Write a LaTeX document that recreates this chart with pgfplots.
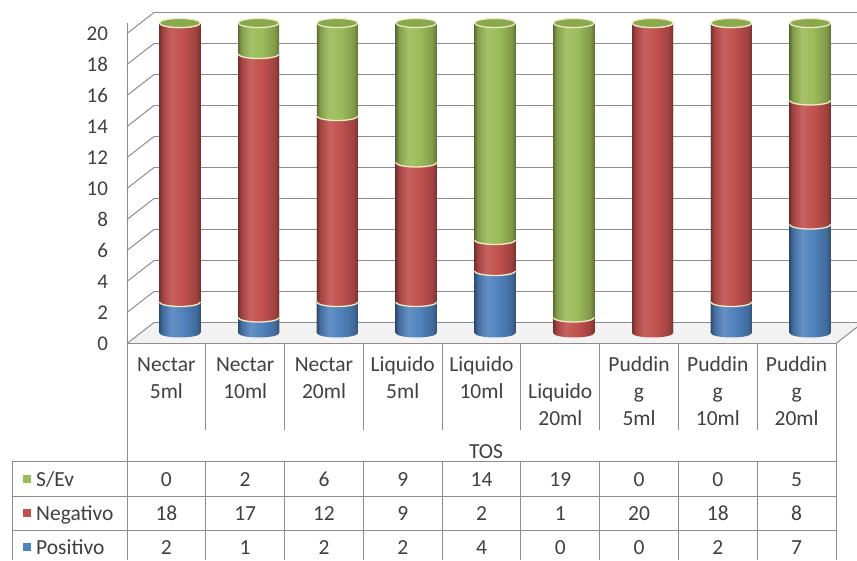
\documentclass[border=0pt]{standalone}
\usepackage{pgfplots}
\usepackage{pgfplotstable}
\pgfplotsset{compat=1.18}
\usepackage{fontspec}
\setmainfont{Carlito}
\definecolor{txt}{HTML}{404040}
\definecolor{gridc}{HTML}{8C8C8C}
\definecolor{tabc}{HTML}{8C8C8C}
\definecolor{bluem}{HTML}{4F81BD}
\definecolor{redm}{HTML}{C0504D}
\definecolor{greenm}{HTML}{9BBB59}
\definecolor{capg}{HTML}{8AA84E}
\definecolor{rimc}{HTML}{F3EDC4}
\definecolor{floorc}{HTML}{F2F2F2}
\pgfdeclarehorizontalshading{bluecyl}{100bp}{color(0bp)=(bluem!60!black); color(25bp)=(bluem!60!black); color(29bp)=(bluem!85!black); color(40bp)=(bluem!88!white); color(55bp)=(bluem); color(70bp)=(bluem!82!black); color(75bp)=(bluem!62!black); color(100bp)=(bluem!62!black)}
\pgfdeclarehorizontalshading{redcyl}{100bp}{color(0bp)=(redm!60!black); color(25bp)=(redm!60!black); color(29bp)=(redm!85!black); color(40bp)=(redm!90!white); color(55bp)=(redm); color(70bp)=(redm!82!black); color(75bp)=(redm!62!black); color(100bp)=(redm!62!black)}
\pgfdeclarehorizontalshading{greencyl}{100bp}{color(0bp)=(greenm!60!black); color(25bp)=(greenm!60!black); color(29bp)=(greenm!85!black); color(40bp)=(greenm!90!white); color(55bp)=(greenm); color(70bp)=(greenm!82!black); color(75bp)=(greenm!62!black); color(100bp)=(greenm!62!black)}
% half ellipse marks (lower half, slightly raised to hide the seam), shaded like the cylinder
\newcommand\defhalf[3]{%
\pgfdeclareplotmark{#1}{%
  \pgfpathmoveto{\pgfqpoint{-20.5pt}{1.2pt}}%
  \pgfpathlineto{\pgfqpoint{-20.5pt}{0pt}}%
  \pgfpatharc{180}{360}{20.5pt and 4.5pt}%
  \pgfpathlineto{\pgfqpoint{20.5pt}{1.2pt}}%
  \pgfpathclose
  \pgfshadepath{#2}{0}%
  \pgfusepath{}%
  #3}}
\def\arcstroke{\pgfpathmoveto{\pgfqpoint{-20.5pt}{0pt}}\pgfpatharc{180}{360}{20.5pt and 4.5pt}\pgfusepathqstroke}
\defhalf{halfgreen}{greencyl}{\arcstroke}
\defhalf{halfred}{redcyl}{\arcstroke}
\defhalf{botred}{redcyl}{}
\defhalf{botblue}{bluecyl}{}
\pgfdeclareplotmark{captop}{%
  \pgfpathellipse{\pgfpointorigin}{\pgfqpoint{20.5pt}{0pt}}{\pgfqpoint{0pt}{4.5pt}}%
  \pgfusepathqfillstroke}

\pgfplotstableread{
x pos neg sev
0 2 18 0
1 1 17 2
2 2 12 6
3 2 9 9
4 4 2 14
5 0 1 19
6 0 20 0
7 2 18 0
8 7 8 5
}\data

\begin{document}
\begin{tikzpicture}[x=1pt,y=1pt]
\useasboundingbox (0,0) rectangle (857,560);
\begin{axis}[
  at={(140.5pt,227pt)}, anchor=south west,
  scale only axis, width=709pt, height=310pt,
  xmin=-0.5, xmax=8.5, ymin=0, ymax=20,
  clip=false,
  axis line style={draw=none},
  xtick=\empty,
  ytick={0,2,...,20},
  major tick length=0pt,
  tick style={draw=none},
  yticklabel style={xshift=-29pt, yshift=-10.5pt, text=txt, font=\fontsize{21}{25}\selectfont},
  /pgf/number format/assume math mode=true,
]
% floor
\fill[floorc] ([xshift=-13.5pt,yshift=-10.5pt]axis cs:-0.5,0) -- ([xshift=-13.5pt,yshift=-10.5pt]axis cs:8.5,0)
   -- ([xshift=13.5pt,yshift=10.5pt]axis cs:8.5,0) -- ([xshift=13.5pt,yshift=10.5pt]axis cs:-0.5,0) -- cycle;
% back wall grid and side wall diagonals
\pgfplotsinvokeforeach{0,2,...,20}{
  \draw[gridc, line width=1.2pt] ([xshift=13.5pt,yshift=10.5pt]axis cs:-0.5,#1) -- ([xshift=13.5pt,yshift=10.5pt]axis cs:8.5,#1);
  \draw[gridc, line width=1pt] ([xshift=-13.5pt,yshift=-10.5pt]axis cs:-0.5,#1) -- ([xshift=13.5pt,yshift=10.5pt]axis cs:-0.5,#1);
}
\draw[gridc, line width=1pt] ([xshift=-13.5pt,yshift=-10.5pt]axis cs:8.5,0) -- ([xshift=13.5pt,yshift=10.5pt]axis cs:8.5,0);
\draw[gridc, line width=1pt] ([xshift=-13.5pt,yshift=-10.5pt]axis cs:-0.5,0) -- ([xshift=-13.5pt,yshift=-10.5pt]axis cs:8.5,0);
% cylinders, one bar per plot so each gets its own shading
\pgfplotsinvokeforeach{0,...,8}{
\addplot[ybar, bar width=41pt, bar shift=0pt, draw=none, shade, shading=greencyl, restrict x to domain=#1:#1.5]
  table[x=x, y expr=\thisrow{pos}+\thisrow{neg}+\thisrow{sev}] {\data};
\addplot[ybar, bar width=41pt, bar shift=0pt, draw=none, shade, shading=redcyl, restrict x to domain=#1:#1.5]
  table[x=x, y expr=\thisrow{pos}+\thisrow{neg}] {\data};
\addplot[ybar, bar width=41pt, bar shift=0pt, draw=none, shade, shading=bluecyl, restrict x to domain=#1:#1.5]
  table[x=x, y=pos] {\data};
}
% bottoms
\addplot[only marks, mark=botblue, restrict y to domain=-1:1]
  table[x=x, y expr={\thisrow{pos}>0 ? 0 : -1000}] {\data};
\addplot[only marks, mark=botred, restrict y to domain=-1:1]
  table[x=x, y expr={\thisrow{pos}>0 ? -1000 : 0}] {\data};
% boundaries
\addplot[only marks, mark=halfred, mark options={draw=rimc, line width=1.3pt}, restrict y to domain=0.5:30]
  table[x=x, y=pos] {\data};
\addplot[only marks, mark=halfgreen, mark options={draw=rimc, line width=1.3pt}]
  table[x=x, y expr=\thisrow{pos}+\thisrow{neg}] {\data};
% top caps
\addplot[only marks, mark=captop, mark options={fill=capg, draw=rimc, line width=1.2pt}]
  table[x=x, y expr=\thisrow{pos}+\thisrow{neg}+\thisrow{sev}] {\data};
\end{axis}

% ---- data table ----
\begin{scope}[tabc, line width=1pt]
\draw (127,536.5) -- (127,0);
\draw (836,216.5) -- (836,0);
\draw (12,98) -- (12,0);
\draw (12,98) -- (836,98);
\draw (12,64) -- (836,64);
\draw (12,30) -- (836,30);
\foreach \i in {1,...,8}{
  \pgfmathsetmacro\xx{127+78.78*\i}
  \draw (\xx,216.5) -- (\xx,130);
  \draw (\xx,98) -- (\xx,0);
}
\end{scope}
\begin{scope}[every node/.style={text=txt, font=\fontsize{21.5}{25}\selectfont, inner sep=0pt}]
% category labels
\node[anchor=base] at (166.4,188) {Nectar};   \node[anchor=base] at (166.4,161) {5ml};
\node[anchor=base] at (245.2,188) {Nectar};   \node[anchor=base] at (245.2,161) {10ml};
\node[anchor=base] at (324.0,188) {Nectar};   \node[anchor=base] at (324.0,161) {20ml};
\node[anchor=base] at (402.7,188) {Liquido};  \node[anchor=base] at (402.7,161) {5ml};
\node[anchor=base] at (481.5,188) {Liquido};  \node[anchor=base] at (481.5,161) {10ml};
\node[anchor=base] at (560.3,161) {Liquido};  \node[anchor=base] at (560.3,134) {20ml};
\node[anchor=base] at (639.0,188) {Puddin};   \node[anchor=base] at (639.0,161) {g}; \node[anchor=base] at (639.0,134) {5ml};
\node[anchor=base] at (717.8,188) {Puddin};   \node[anchor=base] at (717.8,161) {g}; \node[anchor=base] at (717.8,134) {10ml};
\node[anchor=base] at (796.6,188) {Puddin};   \node[anchor=base] at (796.6,161) {g}; \node[anchor=base] at (796.6,134) {20ml};
\node[anchor=base] at (486,101) {TOS};
% series names
\node[anchor=base west] at (36,74) {S/Ev};
\node[anchor=base west] at (36,40) {Negativo};
\node[anchor=base west] at (36,6) {Positivo};
\fill[greenm] (23,77) rectangle (31,85);
\fill[redm] (23,43) rectangle (31,51);
\fill[bluem] (23,9) rectangle (31,17);
% values
\foreach \i in {0,...,8}{
  \pgfmathsetmacro\xx{166.4+78.78*\i}
  \pgfplotstablegetelem{\i}{sev}\of\data \let\vs\pgfplotsretval
  \node[anchor=base] at (\xx,74) {\vs};
  \pgfplotstablegetelem{\i}{neg}\of\data \let\vn\pgfplotsretval
  \node[anchor=base] at (\xx,40) {\vn};
  \pgfplotstablegetelem{\i}{pos}\of\data \let\vp\pgfplotsretval
  \node[anchor=base] at (\xx,6) {\vp};
}
\end{scope}
\end{tikzpicture}
\end{document}
